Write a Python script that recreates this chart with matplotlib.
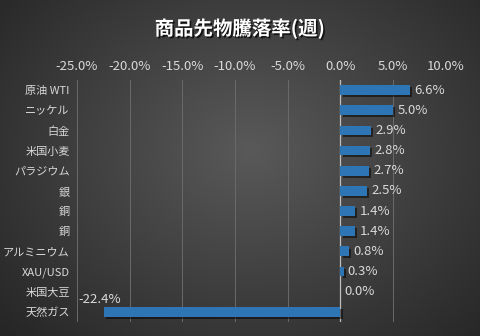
import numpy as np
import matplotlib
matplotlib.use("Agg")
import matplotlib.pyplot as plt
import matplotlib.patheffects as pe
from matplotlib.ticker import FuncFormatter

plt.rcParams['font.family'] = ['Noto Sans CJK JP', 'DejaVu Sans']

# data
categories = ['原油 WTI', 'ニッケル', '白金', '米国小麦', 'パラジウム', '銀',
              '銅', '銅', 'アルミニウム', 'XAU/USD', '米国大豆', '天然ガス']
values = [6.6, 5.0, 2.9, 2.8, 2.7, 2.5, 1.4, 1.4, 0.8, 0.3, 0.0, -22.4]
xticks = [-25, -20, -15, -10, -5, 0, 5, 10]

bar_color = '#2E75B6'
text_color = '#D9D9D9'

fig = plt.figure(figsize=(4.8, 3.36), dpi=100)

# radial gradient background
bg = fig.add_axes([0, 0, 1, 1], zorder=0)
yy, xx = np.mgrid[0:336, 0:480]
r = np.sqrt(((xx - 250) / 300.0) ** 2 + ((yy - 150) / 240.0) ** 2)
shade = np.clip(0.35 - 0.18 * r, 0.15, 0.35)
bg.imshow(np.dstack([shade, shade, shade]), aspect='auto', extent=[0, 1, 0, 1])
bg.set_axis_off()

ax = fig.add_axes([0.160, 0.042, 0.769, 0.720], zorder=1)
ax.patch.set_alpha(0)

y = np.arange(len(categories))
bars = ax.barh(y, values, height=0.48, color=bar_color, zorder=3)
for b in bars:
    b.set_path_effects([pe.SimplePatchShadow(offset=(1.5, -1.5), shadow_rgbFace='black', alpha=0.5),
                        pe.Normal()])

for yi, v in zip(y, values):
    if v < 0:
        ax.annotate(f'{v:.1f}%', (v, yi), xytext=(-3, 4), textcoords='offset points',
                    ha='center', va='bottom', color=text_color, fontsize=9.5, zorder=4)
    else:
        ax.annotate(f'{v:.1f}%', (v, yi), xytext=(3, 0), textcoords='offset points',
                    ha='left', va='center', color=text_color, fontsize=9.5, zorder=4)

ax.set_xlim(-25, 10)
ax.set_ylim(len(categories) - 0.5, -0.5)
ax.set_xticks(xticks)
ax.xaxis.set_major_formatter(FuncFormatter(lambda v, p: f'{v:.1f}%'))
ax.xaxis.tick_top()
ax.set_yticks(y)
ax.set_yticklabels(categories)
ax.tick_params(axis='x', length=0, colors=text_color, labelsize=9.5, pad=5)
ax.tick_params(axis='y', length=0, colors=text_color, labelsize=8, pad=5)

ax.grid(axis='x', color='#6a6a6a', linewidth=0.7, zorder=0)
ax.axvline(0, color='#BFBFBF', linewidth=0.9, zorder=2)
for s in ax.spines.values():
    s.set_visible(False)

fig.text(0.5, 0.915, '商品先物騰落率(週)', ha='center', va='center', color='white',
         fontsize=14, fontweight='bold',
         path_effects=[pe.withSimplePatchShadow(offset=(1.2, -1.2), shadow_rgbFace='black', alpha=0.7)])

fig.savefig('out.png', dpi=100)
